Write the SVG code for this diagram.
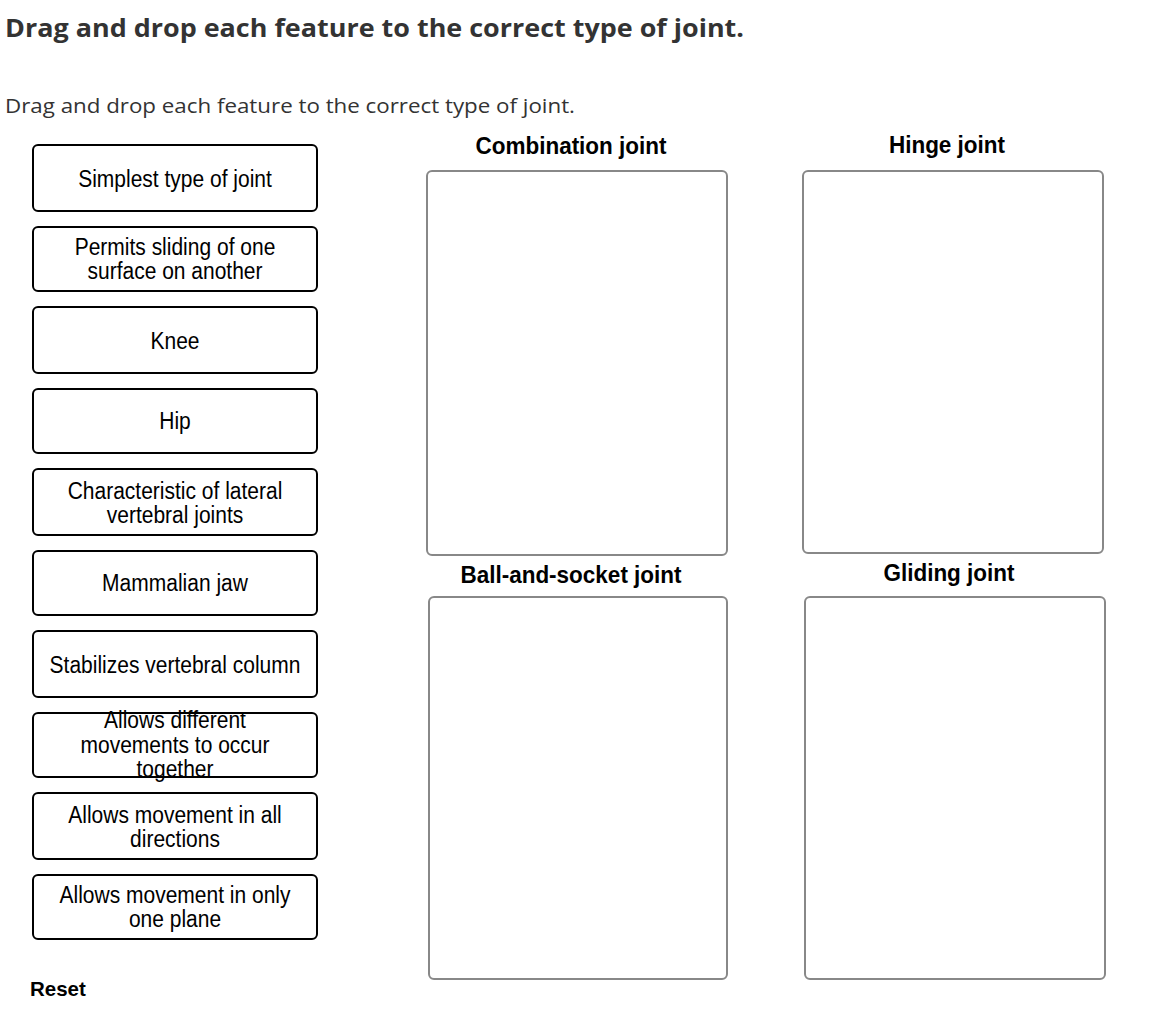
<svg xmlns="http://www.w3.org/2000/svg" width="1162" height="1016" viewBox="0 0 1162 1016">
<style>
.title{font-family:"Open Sans","Lato","Liberation Sans",sans-serif;font-weight:700;font-size:25px;fill:#333}
.sub{font-family:"Open Sans","Lato","Liberation Sans",sans-serif;font-size:20px;fill:#333}
.item rect{fill:#fff;stroke:#000;stroke-width:2}
.item text{font-family:"Liberation Sans",Arial,sans-serif;font-size:21px;fill:#000;text-anchor:middle;transform-box:fill-box;transform-origin:center;transform:scale(1,1.1)}
.zone rect{fill:#fff;stroke:#888;stroke-width:2}
.zone text{font-family:"Liberation Sans",Arial,sans-serif;font-size:22.5px;font-weight:700;fill:#000;text-anchor:middle;transform-box:fill-box;transform-origin:center;transform:scale(1,1.08)}
.reset{font-family:"Liberation Sans",Arial,sans-serif;font-size:20.5px;font-weight:700;fill:#000}
</style>
<rect width="1162" height="1016" fill="#fff"/>
<text class="title" x="5" y="37" textLength="739" lengthAdjust="spacingAndGlyphs">Drag and drop each feature to the correct type of joint.</text>
<text class="sub" x="5" y="113" textLength="570" lengthAdjust="spacingAndGlyphs">Drag and drop each feature to the correct type of joint.</text>

<g id="item1" class="item"><rect x="33" y="145" width="284" height="66" rx="5"/><text x="175" y="186">Simplest type of joint</text></g>
<g id="item2" class="item"><rect x="33" y="227" width="284" height="64" rx="5"/><text x="175" y="254">Permits sliding of one</text><text x="175" y="278">surface on another</text></g>
<g id="item3" class="item"><rect x="33" y="307" width="284" height="66" rx="5"/><text x="175" y="348">Knee</text></g>
<g id="item4" class="item"><rect x="33" y="389" width="284" height="64" rx="5"/><text x="175" y="428">Hip</text></g>
<g id="item5" class="item"><rect x="33" y="469" width="284" height="66" rx="5"/><text x="175" y="498">Characteristic of lateral</text><text x="175" y="522">vertebral joints</text></g>
<g id="item6" class="item"><rect x="33" y="551" width="284" height="64" rx="5"/><text x="175" y="590">Mammalian jaw</text></g>
<g id="item7" class="item"><rect x="33" y="631" width="284" height="66" rx="5"/><text x="175" y="672">Stabilizes vertebral column</text></g>
<g id="item8" class="item"><rect x="33" y="713" width="284" height="64" rx="5"/><text x="175" y="727">Allows different</text><text x="175" y="752">movements to occur</text><text x="175" y="776">together</text></g>
<g id="item9" class="item"><rect x="33" y="793" width="284" height="66" rx="5"/><text x="175" y="822">Allows movement in all</text><text x="175" y="846">directions</text></g>
<g id="item10" class="item"><rect x="33" y="875" width="284" height="64" rx="5"/><text x="175" y="902">Allows movement in only</text><text x="175" y="926">one plane</text></g>

<g id="zone-combination" class="zone"><text x="571" y="153">Combination joint</text><rect x="427" y="171" width="300" height="384" rx="5"/></g>
<g id="zone-hinge" class="zone"><text x="947" y="152">Hinge joint</text><rect x="803" y="171" width="300" height="382" rx="5"/></g>
<g id="zone-ball" class="zone"><text x="571" y="582">Ball-and-socket joint</text><rect x="429" y="597" width="298" height="382" rx="5"/></g>
<g id="zone-gliding" class="zone"><text x="949" y="580">Gliding joint</text><rect x="805" y="597" width="300" height="382" rx="5"/></g>

<text class="reset" x="30" y="996">Reset</text>
<g id="connectors"/>
</svg>
